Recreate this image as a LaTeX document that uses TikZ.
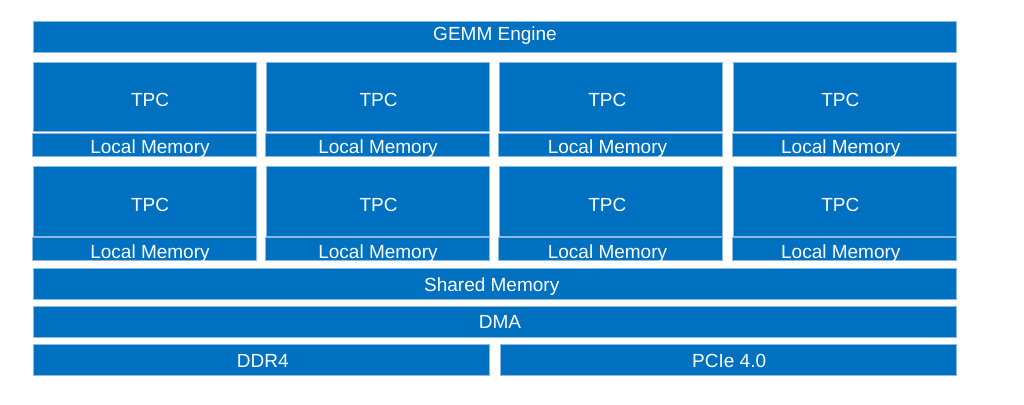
\documentclass[tikz,border=0pt]{standalone}
\usepackage{fontspec}
\setmainfont{Liberation Sans}
\definecolor{blk}{RGB}{0,112,192}
\definecolor{blkedge}{RGB}{140,185,228}
\begin{document}
\begin{tikzpicture}[x=1pt,y=-1pt,
  box/.style={fill=blk,draw=blkedge,line width=0.6pt},
  lbl/.style={anchor=base,text=white,inner sep=0pt,font=\fontsize{19}{21}\selectfont}]
\useasboundingbox (0,0) rectangle (1024,404);
% #1 x1, #2 y1, #3 x2, #4 y2, #5 text, #6 name, #7 dx, #8 dy (cap centre offset)
\newcommand{\blkbox}[8]{%
  \path[box] (#1,#2) rectangle (#3,#4);
  \node[inner sep=0pt,minimum size=0pt] (#6) at ({(#1+#3)/2},{(#2+#4)/2}) {};
  \node[lbl] (#6-t) at ({(#1+#3)/2+#7},{(#2+#4)/2+#8+6.85}) {#5};}
\blkbox{33}{21}{956}{52.7}{GEMM Engine}{gemm}{0.5}{-2.9}
\foreach \i/\xa/\xb/\dx/\dxl in {1/33/256/5.5/5.5,2/266/489/1/0.5,3/499/722/-3.2/-3,4/733/956/-4.2/-3.7}{
  \blkbox{\xa}{62.3}{\xb}{131.7}{TPC}{tpca\i}{\dx}{2.2}
  \blkbox{\xa-0.7}{133.3}{\xb+0.7}{156}{Local Memory}{lma\i}{\dxl}{1.6}
  \blkbox{\xa}{166.7}{\xb}{235.9}{TPC}{tpcb\i}{\dx}{3}
  \blkbox{\xa-0.7}{237.7}{\xb+0.7}{260.7}{Local Memory}{lmb\i}{\dxl}{2.8}
}
\blkbox{33}{268.3}{956}{299}{Shared Memory}{shm}{-2.8}{1}
\blkbox{33}{306}{956}{337.3}{DMA}{dma}{5.5}{0.3}
\blkbox{33}{344}{489}{375.3}{DDR4}{ddr}{1.8}{1.1}
\blkbox{500}{344}{956}{375.3}{PCIe 4.0}{pcie}{1.2}{1.1}
\end{tikzpicture}
\end{document}
